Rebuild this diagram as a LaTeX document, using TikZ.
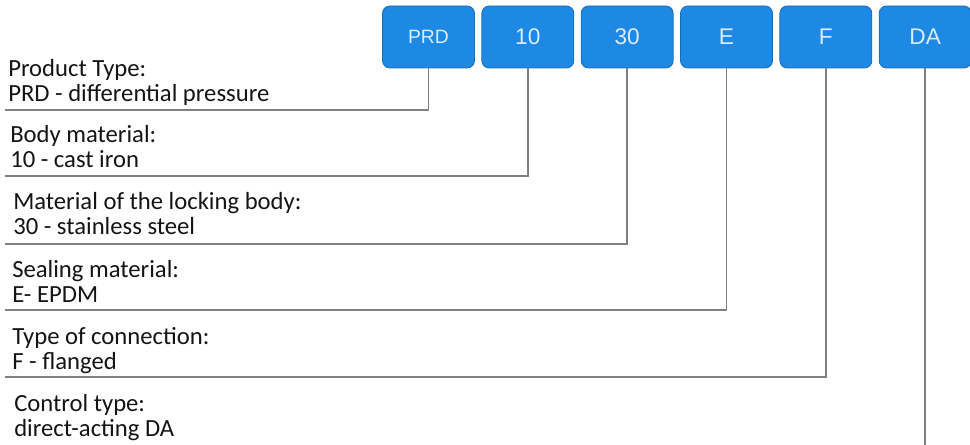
\documentclass[tikz,border=0pt]{standalone}
\usepackage{fontspec}
\setmainfont{Carlito}
\newfontfamily\codefont{Liberation Sans}
\usetikzlibrary{positioning}
\definecolor{codeblue}{HTML}{1E88E5}
\definecolor{codetext}{HTML}{D8ECFF}

\begin{document}
\begin{tikzpicture}[
  x=0.75pt, y=-0.75pt,
  code/.style={
    rounded corners=5.5pt, draw=codeblue!80!black, fill=codeblue, line width=0.6pt,
    text=codetext, inner sep=0pt, minimum width=69pt, minimum height=46.5pt,
    font=\codefont\fontsize{17}{20}\selectfont
  },
  desc/.style={
    anchor=base west, align=left, inner sep=0pt,
    font=\fontsize{18.5}{18.75}\selectfont, text=black!92
  },
  lead/.style={draw=black!50, line width=1.3pt}
]
\useasboundingbox (0,0) rectangle (970,445);

% ----- Code boxes -----
\node[code, font=\codefont\fontsize{14.5}{17}\selectfont] (prd) at (428.5,37) {PRD};
\node[code, right=4.9pt of prd] (b10) {10};
\node[code, right=4.9pt of b10] (b30) {30};
\node[code, right=4.9pt of b30] (bE)  {E};
\node[code, right=4.9pt of bE]  (bF)  {F};
\node[code, right=4.9pt of bF]  (bDA) {DA};

% ----- Descriptions (base = last line) -----
\node[desc] (ptype) at (8,102)  {Product Type:\\PRD - differential pressure};
\node[desc] (body)  at (10,168) {Body material:\\10 - cast iron};
\node[desc] (lock)  at (13,235) {Material of the locking body:\\30 - stainless steel};
\node[desc] (seal)  at (12,302) {Sealing material:\\E- EPDM};
\node[desc] (conn)  at (12,369) {Type of connection:\\F - flanged};
\node[desc] (ctrl)  at (14,436) {Control type:\\direct-acting DA};

% ----- Leader lines -----
\coordinate (e1) at (5,110);
\coordinate (e2) at (5,176);
\coordinate (e3) at (5,244);
\coordinate (e4) at (5,310);
\coordinate (e5) at (5,377);
\coordinate (e6) at (920,445);
\draw[lead] (prd.south) |- (e1);
\draw[lead] (b10.south) |- (e2);
\draw[lead] (b30.south) |- (e3);
\draw[lead] (bE.south)  |- (e4);
\draw[lead] (bF.south)  |- (e5);
\draw[lead] (bDA.south) -- (bDA.south |- e6);

\end{tikzpicture}
\end{document}
